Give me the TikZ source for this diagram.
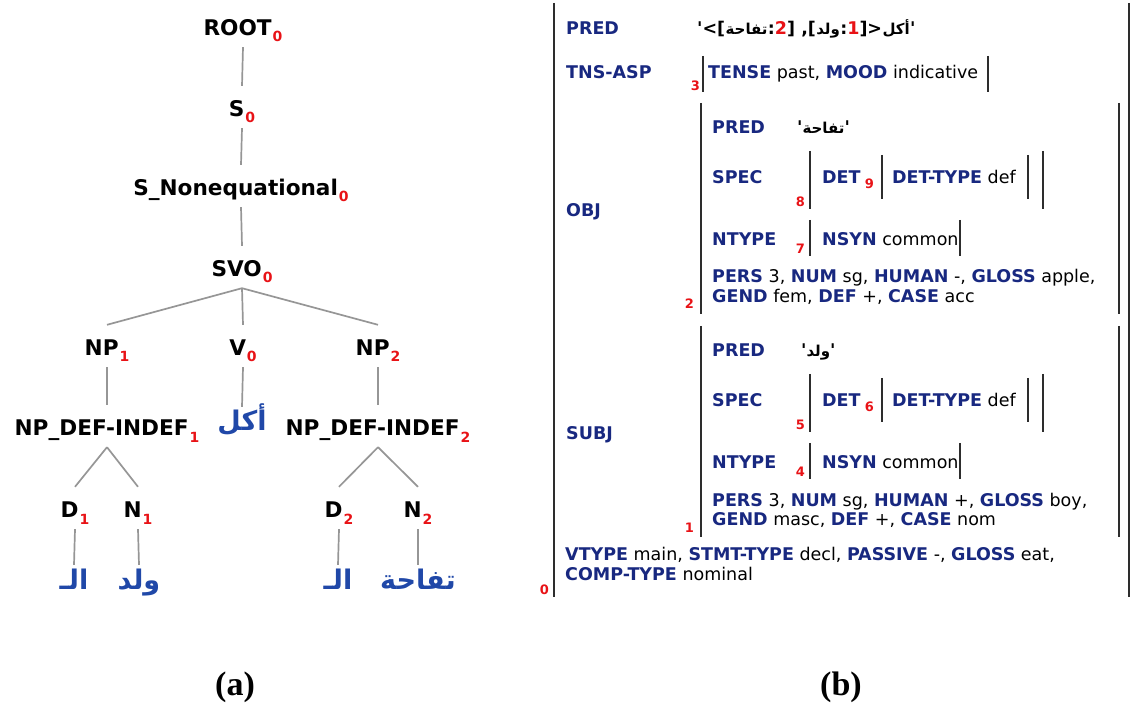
\documentclass[tikz,border=0pt]{standalone}
\usepackage{fontspec}
\usepackage{xcolor}
\TeXXeTstate=1
\setmainfont{DejaVu Sans}[Ligatures=TeXOff]
\newfontfamily\arfont[Script=Arabic]{DejaVu Sans}
\newfontfamily\capfont{Liberation Serif}
\definecolor{attblue}{RGB}{24,40,128}
\definecolor{idxred}{RGB}{232,18,22}
\definecolor{arblue}{RGB}{32,72,168}
\definecolor{treegray}{RGB}{150,150,150}
\definecolor{brkgray}{RGB}{45,45,45}
% red subscript index of a c-structure category
\newcommand\sub[1]{\kern1pt\raisebox{-6pt}{\fontsize{14}{14}\selectfont\textcolor{idxred}{#1}}}
% right-to-left Arabic run, boxed so it stays in place among Latin text
\newcommand\artext[1]{\hbox{\arfont\beginR #1\endR}}
% Arabic run at the f-structure size
\newcommand\arsmall[1]{\hbox{\arfont\bfseries\fontsize{15}{18}\selectfont\beginR #1\endR}}
% f-structure attribute name
\newcommand\att[1]{{\bfseries\color{attblue}#1}}
\begin{document}
\begin{tikzpicture}[x=1pt,y=-1pt,
  cat/.style={anchor=base,inner sep=0pt,text height=31pt,text depth=11pt,
    font=\bfseries\fontsize{21.6}{24}\selectfont},
  word/.style={anchor=base,inner sep=0pt,text height=24pt,text depth=0pt,
    text=arblue,font=\bfseries\fontsize{27}{30}\selectfont},
  edge/.style={draw=treegray,line width=1.7pt},
  fs/.style={anchor=base west,inner sep=0pt,font=\fontsize{17.5}{21}\selectfont},
  ix/.style={anchor=base east,inner sep=0pt,text=idxred,font=\bfseries\fontsize{13}{13}\selectfont},
  brk/.style={draw=brkgray,line width=2.3pt},
  capstyle/.style={anchor=base,inner sep=0pt,font=\capfont\bfseries\fontsize{34}{36}\selectfont}]
\useasboundingbox (0,0) rectangle (1133,708);

% ---------- (a) c-structure tree ----------
\node[cat] (root) at (243,36) {ROOT\sub{0}};
\node[cat] (s) at (242,117) {S\sub{0}};
\node[cat] (snon) at (241,196) {S\_Nonequational\sub{0}};
\node[cat] (svo) at (242,277) {SVO\sub{0}};
\node[cat] (np1) at (107,356) {NP\sub{1}};
\node[cat] (v) at (243,356) {V\sub{0}};
\node[cat] (np2) at (378,356) {NP\sub{2}};
\node[cat] (ndi1) at (107,436) {NP\_DEF-INDEF\sub{1}};
\node[cat] (ndi2) at (378,436) {NP\_DEF-INDEF\sub{2}};
\node[cat] (d1) at (75,518) {D\sub{1}};
\node[cat] (n1) at (138,518) {N\sub{1}};
\node[cat] (d2) at (339,518) {D\sub{2}};
\node[cat] (n2) at (418,518) {N\sub{2}};
\node[word] (wv) at (242,431) {\artext{أكل}};
\node[word] (wd1) at (74,589) {\artext{الـ}};
\node[word] (wn1) at (139,589) {\artext{ولد}};
\node[word] (wd2) at (338,589) {\artext{الـ}};
\node[word] (wn2) at (418,589) {\artext{تفاحة}};

\draw[edge] (root.south) -- (s.north);
\draw[edge] (s.south) -- (snon.north);
\draw[edge] (snon.south) -- (svo.north);
\draw[edge] (svo.south) -- (np1.north);
\draw[edge] (svo.south) -- (v.north);
\draw[edge] (svo.south) -- (np2.north);
\draw[edge] (np1.south) -- (ndi1.north);
\draw[edge] (np2.south) -- (ndi2.north);
\draw[edge] (v.south) -- (wv.north);
\draw[edge] (ndi1.south) -- (d1.north);
\draw[edge] (ndi1.south) -- (n1.north);
\draw[edge] (ndi2.south) -- (d2.north);
\draw[edge] (ndi2.south) -- (n2.north);
\draw[edge] (d1.south) -- (wd1.north);
\draw[edge] (n1.south) -- (wn1.north);
\draw[edge] (d2.south) -- (wd2.north);
\draw[edge] (n2.south) -- (wn2.north);

% ---------- (b) f-structure ----------
% outer structure
\draw[brk] (554,3) -- (554,597);
\draw[brk] (1129,3) -- (1129,597);
\node[fs] (pred) at (566,35) {\att{PRED}};
% the semantic form, set piece by piece from left to right
\node[fs] (pv1) at (697,35) {\bfseries '<[};
\node[fs] (pv2) at (pv1.base east) {\arsmall{تفاحة}};
\node[fs] (pv3) at (pv2.base east) {\bfseries :\textcolor{idxred}{2}] ,[};
\node[fs] (pv4) at (pv3.base east) {\arsmall{ولد}};
\node[fs] (pv5) at (pv4.base east) {\bfseries :\textcolor{idxred}{1}]>};
\node[fs] (pv6) at (pv5.base east) {\arsmall{أكل}};
\node[fs] (pv7) at (pv6.base east) {\bfseries '};
\node[fs] (tns) at (566,79) {\att{TNS-ASP}};
\draw[brk] (703,56) -- (703,92);
\draw[brk] (988,56) -- (988,92);
\node[fs] (tnsv) at (708,79) {\att{TENSE} past, \att{MOOD} indicative};
\node[ix] (i3) at (700,91) {3};

% OBJ
\node[fs] (obj) at (566,217) {\att{OBJ}};
\draw[brk] (701,103) -- (701,314);
\draw[brk] (1119,103) -- (1119,314);
\node[fs] (opred) at (712,134) {\att{PRED}};
\node[fs] (opredv) at (797,134) {\bfseries '\arsmall{تفاحة}'};
\node[fs] (ospec) at (712,184) {\att{SPEC}};
\draw[brk] (810,151) -- (810,209);
\draw[brk] (1043,151) -- (1043,209);
\node[fs] (odet) at (822,184) {\att{DET}};
\node[ix] (i9) at (874,189) {9};
\draw[brk] (882,155) -- (882,199);
\draw[brk] (1028,155) -- (1028,199);
\node[fs] (odt) at (892,184) {\att{DET-TYPE} def};
\node[ix] (i8) at (805,207) {8};
\node[fs] (ontype) at (712,246) {\att{NTYPE}};
\draw[brk] (810,220) -- (810,256);
\draw[brk] (960,220) -- (960,256);
\node[fs] (onsyn) at (822,246) {\att{NSYN} common};
\node[ix] (i7) at (805,254) {7};
\node[fs] (ol1) at (712,283) {\att{PERS} 3, \att{NUM} sg, \att{HUMAN} -, \att{GLOSS} apple,};
\node[fs] (ol2) at (712,302.5) {\att{GEND} fem, \att{DEF} +, \att{CASE} acc};
\node[ix] (i2) at (694,309) {2};

% SUBJ
\node[fs] (subj) at (566,440) {\att{SUBJ}};
\draw[brk] (701,326) -- (701,537);
\draw[brk] (1119,326) -- (1119,537);
\node[fs] (spred) at (712,357) {\att{PRED}};
\node[fs] (spredv) at (801,357) {\bfseries '\arsmall{ولد}'};
\node[fs] (sspec) at (712,407) {\att{SPEC}};
\draw[brk] (810,374) -- (810,432);
\draw[brk] (1043,374) -- (1043,432);
\node[fs] (sdet) at (822,407) {\att{DET}};
\node[ix] (i6) at (874,412) {6};
\draw[brk] (882,378) -- (882,422);
\draw[brk] (1028,378) -- (1028,422);
\node[fs] (sdt) at (892,407) {\att{DET-TYPE} def};
\node[ix] (i5) at (805,430) {5};
\node[fs] (sntype) at (712,469) {\att{NTYPE}};
\draw[brk] (810,443) -- (810,479);
\draw[brk] (960,443) -- (960,479);
\node[fs] (snsyn) at (822,469) {\att{NSYN} common};
\node[ix] (i4) at (805,477) {4};
\node[fs] (sl1) at (712,506) {\att{PERS} 3, \att{NUM} sg, \att{HUMAN} +, \att{GLOSS} boy,};
\node[fs] (sl2) at (712,525.5) {\att{GEND} masc, \att{DEF} +, \att{CASE} nom};
\node[ix] (i1) at (694,532) {1};

% remaining features of the clause
\node[fs] (ml1) at (565,560) {\att{VTYPE} main, \att{STMT-TYPE} decl, \att{PASSIVE} -, \att{GLOSS} eat,};
\node[fs] (ml2) at (565,580) {\att{COMP-TYPE} nominal};
\node[ix] (i0) at (549,594) {0};

% captions
\node[capstyle] (capa) at (235,695) {(a)};
\node[capstyle] (capb) at (841,695) {(b)};
\end{tikzpicture}
\end{document}
